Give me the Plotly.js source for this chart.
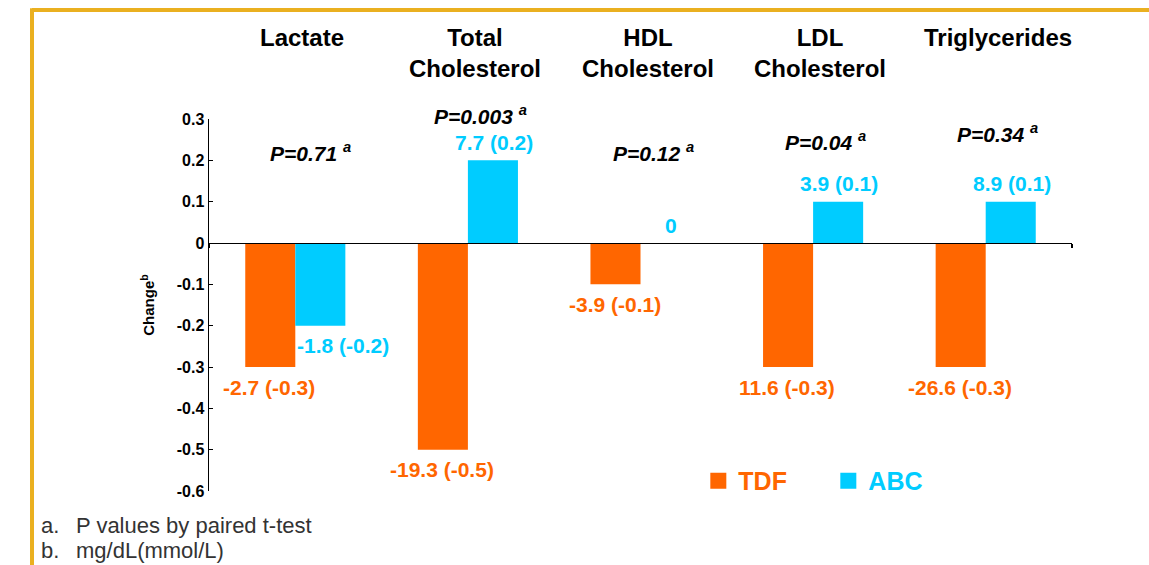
<!DOCTYPE html>
<html>
<head>
<meta charset="utf-8">
<script src="https://cdn.plot.ly/plotly-3.0.1.min.js"></script>
<style>html,body{margin:0;padding:0;background:#fff;}#chart{width:1149px;height:565px;}</style>
</head>
<body>
<div id="chart"></div>
<script>
// ---- data ----
const categories = ['Lactate', 'Total<br>Cholesterol', 'HDL<br>Cholesterol', 'LDL<br>Cholesterol', 'Triglycerides'];
const tdfValues = [-0.3, -0.5, -0.1, -0.3, -0.3];
const abcValues = [-0.2, 0.2, 0, 0.1, 0.1];
const tdfLabels = ['-2.7 (-0.3)', '-19.3 (-0.5)', '-3.9 (-0.1)', '11.6 (-0.3)', '-26.6 (-0.3)'];
const abcLabels = ['-1.8 (-0.2)', '7.7 (0.2)', '0', '3.9 (0.1)', '8.9 (0.1)'];
const pValues = ['P=0.71', 'P=0.003', 'P=0.12', 'P=0.04', 'P=0.34'];
const tickVals = [0.3, 0.2, 0.1, 0, -0.1, -0.2, -0.3, -0.4, -0.5, -0.6];
const tickText = ['0.3', '0.2', '0.1', '0', '-0.1', '-0.2', '-0.3', '-0.4', '-0.5', '-0.6'];
const seriesNames = ['TDF', 'ABC'];
const footnotes = [['a.', 'P values by paired t-test'], ['b.', 'mg/dL(mmol/L)']];

// ---- styles ----
const ORANGE = '#FF6600';
const CYAN = '#00CCFF';
const GOLD = '#EAB020';
const FONT = 'Liberation Sans, Arial, sans-serif';
// vertical placement of P-value labels (pixels above the plot's zero line)
const pLabelRise = [91, 128, 91, 102, 110];
const pLabelShift = [15, 13, 13, 12, 12];

const traces = [
  {type: 'bar', name: seriesNames[0], x: categories, y: tdfValues, showlegend: false,
   marker: {color: ORANGE}, hoverinfo: 'skip'},
  {type: 'bar', name: seriesNames[1], x: categories, y: abcValues, showlegend: false,
   marker: {color: CYAN}, hoverinfo: 'skip'},
  // legend entries (square keys)
  {type: 'scatter', mode: 'markers', x: [null], y: [null], showlegend: true,
   name: '<b><span style="color:' + ORANGE + '">' + seriesNames[0] + '</span></b>',
   marker: {symbol: 'square', size: 17, color: ORANGE}, hoverinfo: 'skip'},
  {type: 'scatter', mode: 'markers', x: [null], y: [null], showlegend: true,
   name: '<b><span style="color:' + CYAN + '">' + seriesNames[1] + '</span></b>',
   marker: {symbol: 'square', size: 17, color: CYAN}, hoverinfo: 'skip'}
];

const annotations = [];
categories.forEach((c, i) => {
  annotations.push({x: c, xref: 'x', y: 1.262, yref: 'paper', yanchor: 'top', xanchor: 'center',
    xshift: i === 4 ? 12 : 7,
    text: '<b>' + c + '</b>', showarrow: false, font: {family: FONT, size: 24, color: '#000'}});
  annotations.push({x: c, xref: 'x', y: 0, yref: 'y', yanchor: 'middle', xanchor: 'center', xshift: pLabelShift[i],
    yshift: pLabelRise[i], text: '<b><i>' + pValues[i] + ' <sup>a</sup></i></b>', showarrow: false,
    font: {family: FONT, size: 21, color: '#000'}});
  annotations.push({x: c, xref: 'x', y: tdfValues[i], yref: 'y', xanchor: 'center', yanchor: 'middle',
    xshift: -26, yshift: tdfValues[i] < 0 ? -20 : 20, text: '<b>' + tdfLabels[i] + '</b>', showarrow: false,
    font: {family: FONT, size: 21, color: ORANGE}});
  const neg = abcValues[i] < 0;
  annotations.push({x: c, xref: 'x', y: abcValues[i], yref: 'y', xanchor: neg ? 'left' : 'center', yanchor: 'middle',
    xshift: neg ? 0 : (abcValues[i] === 0 ? 30 : 26), yshift: neg ? -20 : 18,
    text: '<b>' + abcLabels[i] + '</b>', showarrow: false,
    font: {family: FONT, size: 21, color: CYAN}});
});
footnotes.forEach((f, i) => {
  annotations.push({x: -0.1975, xref: 'paper', y: -0.094 - i * 0.065, yref: 'paper', xanchor: 'left', yanchor: 'middle',
    text: f[0], showarrow: false, font: {family: FONT, size: 22, color: '#333'}});
  annotations.push({x: -0.157, xref: 'paper', y: -0.094 - i * 0.065, yref: 'paper', xanchor: 'left', yanchor: 'middle',
    text: f[1], showarrow: false, font: {family: FONT, size: 22, color: '#333'}});
});

const layout = {
  width: 1149, height: 565,
  margin: {l: 209, r: 77, t: 119, b: 74},
  paper_bgcolor: '#fff', plot_bgcolor: '#fff',
  barmode: 'group', bargap: 0.42, bargroupgap: 0,
  font: {family: FONT},
  showlegend: true,
  legend: {orientation: 'h', x: 0.567, y: 0.027, xanchor: 'left', yanchor: 'middle',
    font: {family: FONT, size: 25}, entrywidth: 85, entrywidthmode: 'pixels',
    bgcolor: 'rgba(0,0,0,0)'},
  xaxis: {type: 'category', range: [-0.5, 4.5], anchor: 'free', position: 0.6667,
    showline: true, linecolor: '#000', linewidth: 1.5, showgrid: false, zeroline: false,
    tickmode: 'array', tickvals: [-0.5, 4.5], ticktext: ['', ''], ticks: 'outside', ticklen: 4,
    tickcolor: '#000', tickwidth: 1.5, fixedrange: true},
  yaxis: {range: [-0.6, 0.3], showgrid: false, zeroline: false, showline: true, linecolor: '#000', linewidth: 1.5,
    tickmode: 'array', tickvals: tickVals, ticktext: tickText.map(t => '<b>' + t + '</b>'),
    ticks: 'inside', ticklen: 4, tickcolor: '#000',
    tickfont: {family: FONT, size: 16, color: '#000'},
    title: {text: '<b>Change<sup>b</sup></b>', font: {family: FONT, size: 15, color: '#000'}, standoff: 18},
    fixedrange: true},
  shapes: [
    {type: 'line', xref: 'paper', yref: 'paper', x0: -0.2051, x1: 1.2, y0: 1.293, y1: 1.293,
     line: {color: GOLD, width: 4}},
    {type: 'line', xref: 'paper', yref: 'paper', x0: -0.2051, x1: -0.2051, y0: 1.298, y1: -0.3,
     line: {color: GOLD, width: 4}}
  ],
  annotations: annotations
};

Plotly.newPlot('chart', traces, layout, {displayModeBar: false, staticPlot: true});
</script>
</body>
</html>
